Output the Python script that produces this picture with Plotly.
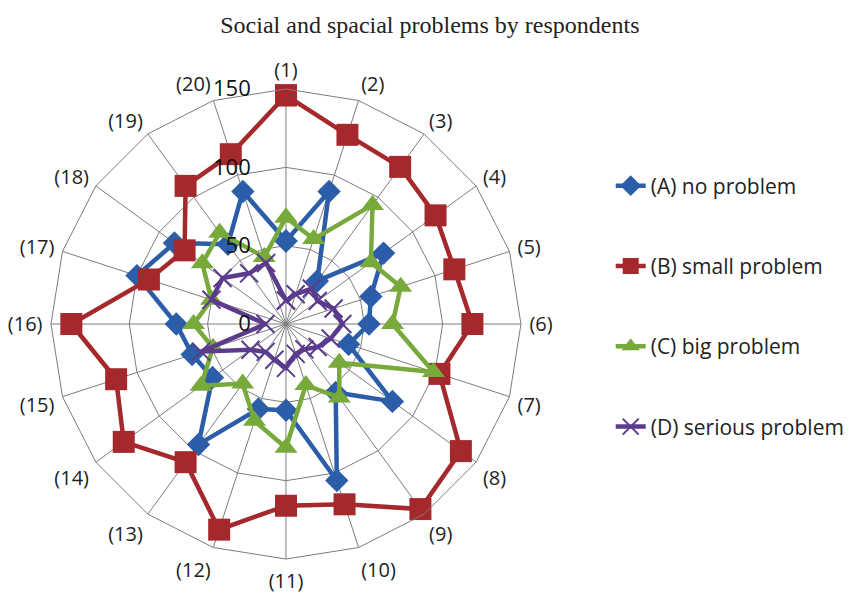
import plotly.graph_objects as go

categories = [f"({i})" for i in range(1, 21)]

no_problem = [53, 89, 34, 77, 57, 53, 42, 84, 54, 105, 55, 57, 95, 58, 63, 70, 100, 88, 63, 89]
small_problem = [146, 127, 124, 118, 113, 119, 103, 138, 146, 121, 116, 138, 109, 128, 114, 137, 92, 80, 109, 114]
big_problem = [68, 57, 94, 67, 77, 68, 99, 42, 58, 41, 79, 65, 47, 67, 49, 59, 50, 66, 72, 45]
serious_problem = [15, 20, 28, 25, 32, 36, 30, 25, 20, 20, 28, 24, 22, 28, 57, 13, 50, 50, 40, 41]

series_names = ["(A) no problem", "(B) small problem", "(C) big problem", "(D) serious problem"]
series_values = [no_problem, small_problem, big_problem, serious_problem]
colors = ["#2B5DA9", "#A4282C", "#78A93B", "#5A3B8C"]
symbols = ["diamond", "square", "triangle-up", "x-thin-open"]
msizes = [18, 22, 20, 18]

fig = go.Figure()
for name, vals, col, sym, ms in zip(series_names, series_values, colors, symbols, msizes):
    marker = dict(symbol=sym, size=ms, color=col)
    if sym == "x-thin-open":
        marker["line"] = dict(color=col, width=2)
    fig.add_trace(go.Scatterpolar(
        r=vals + vals[:1],
        theta=categories + categories[:1],
        mode="lines+markers",
        name=name,
        legendgroup=name,
        line=dict(color=col, width=4.5),
        marker=marker,
    ))

fig.update_layout(
    width=861, height=599,
    margin=dict(l=0, r=0, t=0, b=0),
    paper_bgcolor="white",
    plot_bgcolor="white",
    title=dict(text="Social and spacial problems by respondents",
               font=dict(family="Liberation Serif", size=24, color="#222"),
               x=0.49, xanchor="center", y=0.973, yanchor="middle"),
    polar=dict(
        domain=dict(x=[0.0499, 0.5958], y=[0.0801, 0.8647]),
        bgcolor="white",
        gridshape="linear",
        angularaxis=dict(
            rotation=90, direction="clockwise",
            gridcolor="#7d7d7d", gridwidth=1,
            linecolor="#7d7d7d", linewidth=1,
            showline=True,
            ticks="outside", ticklen=4, tickcolor="rgba(0,0,0,0)",
            tickfont=dict(family="Open Sans", size=20, color="#222"),
        ),
        radialaxis=dict(
            range=[0, 150], tickvals=[0, 50, 100, 150],
            ticktext=["0", "50", "100", "150"],
            angle=90, side="counterclockwise", tickangle=90,
            showline=False,
            ticks="outside", ticklen=27, tickcolor="rgba(0,0,0,0)",
            gridcolor="#7d7d7d", gridwidth=1,
            tickfont=dict(family="Open Sans", size=22, color="#111"),
        ),
    ),
    legend=dict(
        x=0.70, y=0.737, xanchor="left", yanchor="top",
        font=dict(family="Open Sans", size=21, color="#222"),
        tracegroupgap=50,
        bgcolor="rgba(0,0,0,0)",
    ),
)

fig.write_html("out.html")
